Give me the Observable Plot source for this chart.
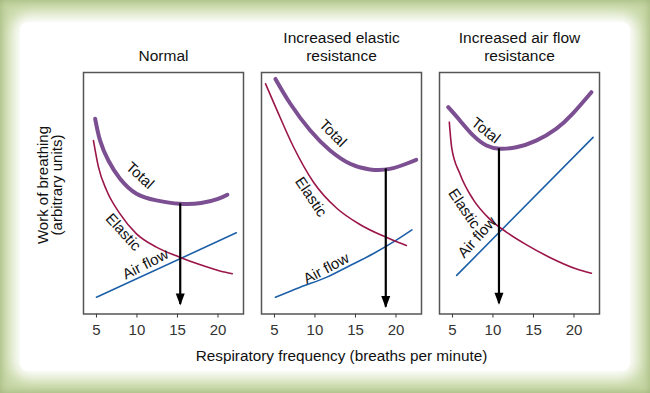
<!DOCTYPE html>
<html>
<head>
<meta charset="utf-8">
<script src="https://cdn.jsdelivr.net/npm/d3@7"></script>
<script src="https://cdn.jsdelivr.net/npm/@observablehq/plot@0.6"></script>
<style>
  body { margin: 0; background: #fff; }
  #wrap { position: relative; width: 650px; height: 393px; overflow: hidden;
          background: #c8d8a6; box-shadow: inset 0 0 8px rgba(110,140,70,0.5);
          font-family: "Liberation Sans", Arial, Helvetica, sans-serif; }
  #inner { position: absolute; left: 20px; top: 22px; right: 20px; bottom: 22px;
           background: #fff; border-radius: 8px; box-shadow: 0 0 14px 8px #fff; }
  #chart { position: absolute; left: 0; top: 0; }
  #ylab { position: absolute; left: -50px; top: 171px; width: 200px; height: 28px;
          font-size: 15px; line-height: 14px; text-align: center; color: #111;
          transform: rotate(-90deg); transform-origin: 50% 50%; white-space: nowrap; }
  #xlab { position: absolute; left: 82px; width: 519px; top: 347px; font-size: 15.3px;
          line-height: 17px; text-align: center; color: #111; white-space: nowrap; }
</style>
</head>
<body>
<div id="wrap">
  <div id="inner"></div>
  <div id="chart"></div>
  <div id="ylab">Work of breathing<br>(arbitrary units)</div>
  <div id="xlab">Respiratory frequency (breaths per minute)</div>
</div>
<script>
// ---- data ----
const panelKeys = ["normal", "elastic", "airflow"];
const panelTitles = ["Normal", "Increased elastic\nresistance", "Increased air flow\nresistance"];
const xTicks = [5, 10, 15, 20];

// Normal
const normalTotal   = [[4.84,80.4],[5.45,71.5],[6.47,63.4],[7.91,56.0],[9.94,49.9],[12.4,47.2],[15.27,45.8],[17.92,46.1],[20.0,47.8],[21.16,49.5]];
const normalElastic = [[4.63,71.5],[5.25,60.7],[6.26,51.2],[7.91,41.7],[9.94,33.6],[12.4,28.2],[15.27,24.1],[17.92,20.9],[20.34,18.4],[21.77,17.4]];
const normalAirflow = [[5.0,7.8],[22.26,34.0]];

// Increased elastic resistance
const elasticTotal   = [[5.12,96.6],[6.96,86.5],[9.42,75.6],[11.87,67.5],[14.33,62.1],[16.78,59.8],[19.23,60.0],[21.28,62.1],[22.5,63.7]];
const elasticElastic = [[3.9,94.6],[5.33,83.7],[7.37,68.8],[9.82,54.6],[12.69,44.0],[15.55,37.4],[17.8,33.6],[19.64,31.0],[21.28,28.9]];
const elasticAirflow = [[5.12,7.8],[8.19,11.9],[11.47,16.0],[14.33,20.7],[17.18,25.5],[19.64,30.2],[21.97,35.2]];

// Increased air flow resistance
const airflowTotal   = [[4.48,85.1],[5.92,79.7],[7.55,73.6],[9.2,69.5],[10.83,68.2],[12.88,68.8],[15.33,71.5],[17.79,76.3],[19.82,82.4],[22.15,91.2]];
const airflowElastic = [[4.61,79.0],[4.9,68.8],[5.92,58.0],[7.55,47.6],[9.6,39.6],[11.65,34.3],[14.1,29.2],[16.96,24.1],[20.24,19.4],[22.15,17.6]];
const airflowAirflow = [[5.52,16.7],[22.36,72.8]];

// Arrows: x at minimum of total, from total down to tip
const arrowX   = [15.34, 18.74, 10.74];
const arrowTop = [45.8, 60.0, 68.2];
const arrowTip = [4.9, 3.8, 5.2];

// Curve labels: [text, x, y, rotation]
const normalLabels  = [["Total",10.36,57.3,42],["Elastic",8.3,34.3,48],["Air flow",11.05,21.2,-27]];
const elasticLabels = [["Total",12.2,74.5,45],["Elastic",9.5,48.6,56],["Air flow",11.4,19.5,-28]];
const airflowLabels = [["Total",9.11,75.6,38],["Elastic",6.45,43.8,56],["Air flow",8.05,32.2,-48]];

// ---- build tables ----
const toRows = (panel, pts) => pts.map(([x, y]) => ({panel, x, y}));
const totalRows   = [...toRows("normal", normalTotal), ...toRows("elastic", elasticTotal), ...toRows("airflow", airflowTotal)];
const elasticRows = [...toRows("normal", normalElastic), ...toRows("elastic", elasticElastic), ...toRows("airflow", airflowElastic)];
const airRows     = [...toRows("normal", normalAirflow), ...toRows("elastic", elasticAirflow), ...toRows("airflow", airflowAirflow)];
const titleRows = panelKeys.map((p, i) => ({panel: p, title: panelTitles[i]}));
const arrowRows = panelKeys.map((p, i) => ({panel: p, x: arrowX[i], y1: arrowTop[i], y2: arrowTip[i]}));
const labelRows = [
  ...normalLabels.map(([t,x,y,r]) => ({panel: "normal", text: t, x, y, r})),
  ...elasticLabels.map(([t,x,y,r]) => ({panel: "elastic", text: t, x, y, r})),
  ...airflowLabels.map(([t,x,y,r]) => ({panel: "airflow", text: t, x, y, r}))
];

// narrow arrow-head symbol, tip at origin pointing down
const arrowHead = {
  draw(ctx, size) {
    ctx.moveTo(0, 1);
    ctx.lineTo(-4.5, -11);
    ctx.lineTo(4.5, -11);
    ctx.closePath();
  }
};

const fontFamily = '"Liberation Sans", Arial, Helvetica, sans-serif';

const chart = Plot.plot({
  width: 650,
  height: 393,
  marginLeft: 82,
  marginRight: 49,
  marginTop: 72,
  marginBottom: 79.5,
  style: {background: "transparent", fontFamily, fontSize: "15px", color: "#333"},
  fx: {domain: panelKeys, axis: null, padding: 0.1},
  x: {domain: [3.4, 23.15], ticks: xTicks, tickSize: 4, tickPadding: 6, label: null, tickFormat: d => String(d)},
  y: {domain: [1, 99.2], axis: null},
  marks: [
    Plot.frame({stroke: "#555", strokeWidth: 1.5}),
    Plot.line(airRows, {fx: "panel", x: "x", y: "y", stroke: "#1d5fa8", strokeWidth: 1.6, curve: "monotone-x"}),
    Plot.line(elasticRows, {fx: "panel", x: "x", y: "y", stroke: "#9b1549", strokeWidth: 1.6, curve: "monotone-x"}),
    Plot.line(totalRows, {fx: "panel", x: "x", y: "y", stroke: "#7b4f91", strokeWidth: 4, curve: "natural"}),
    Plot.ruleX(arrowRows, {fx: "panel", x: "x", y1: "y1", y2: "y2", stroke: "#000", strokeWidth: 2.2}),
    Plot.dot(arrowRows, {fx: "panel", x: "x", y: "y2", symbol: arrowHead, fill: "#000", stroke: "none", r: 4}),
    Plot.text(labelRows, {fx: "panel", x: "x", y: "y", text: "text", rotate: "r", fontSize: 15, fill: "#111"}),
    Plot.text(titleRows, {fx: "panel", text: "title", frameAnchor: "top", lineAnchor: "bottom", dy: -12, fontSize: 15.5, fill: "#111", lineHeight: 1.1})
  ]
});
document.getElementById("chart").appendChild(chart);
</script>
</body>
</html>
